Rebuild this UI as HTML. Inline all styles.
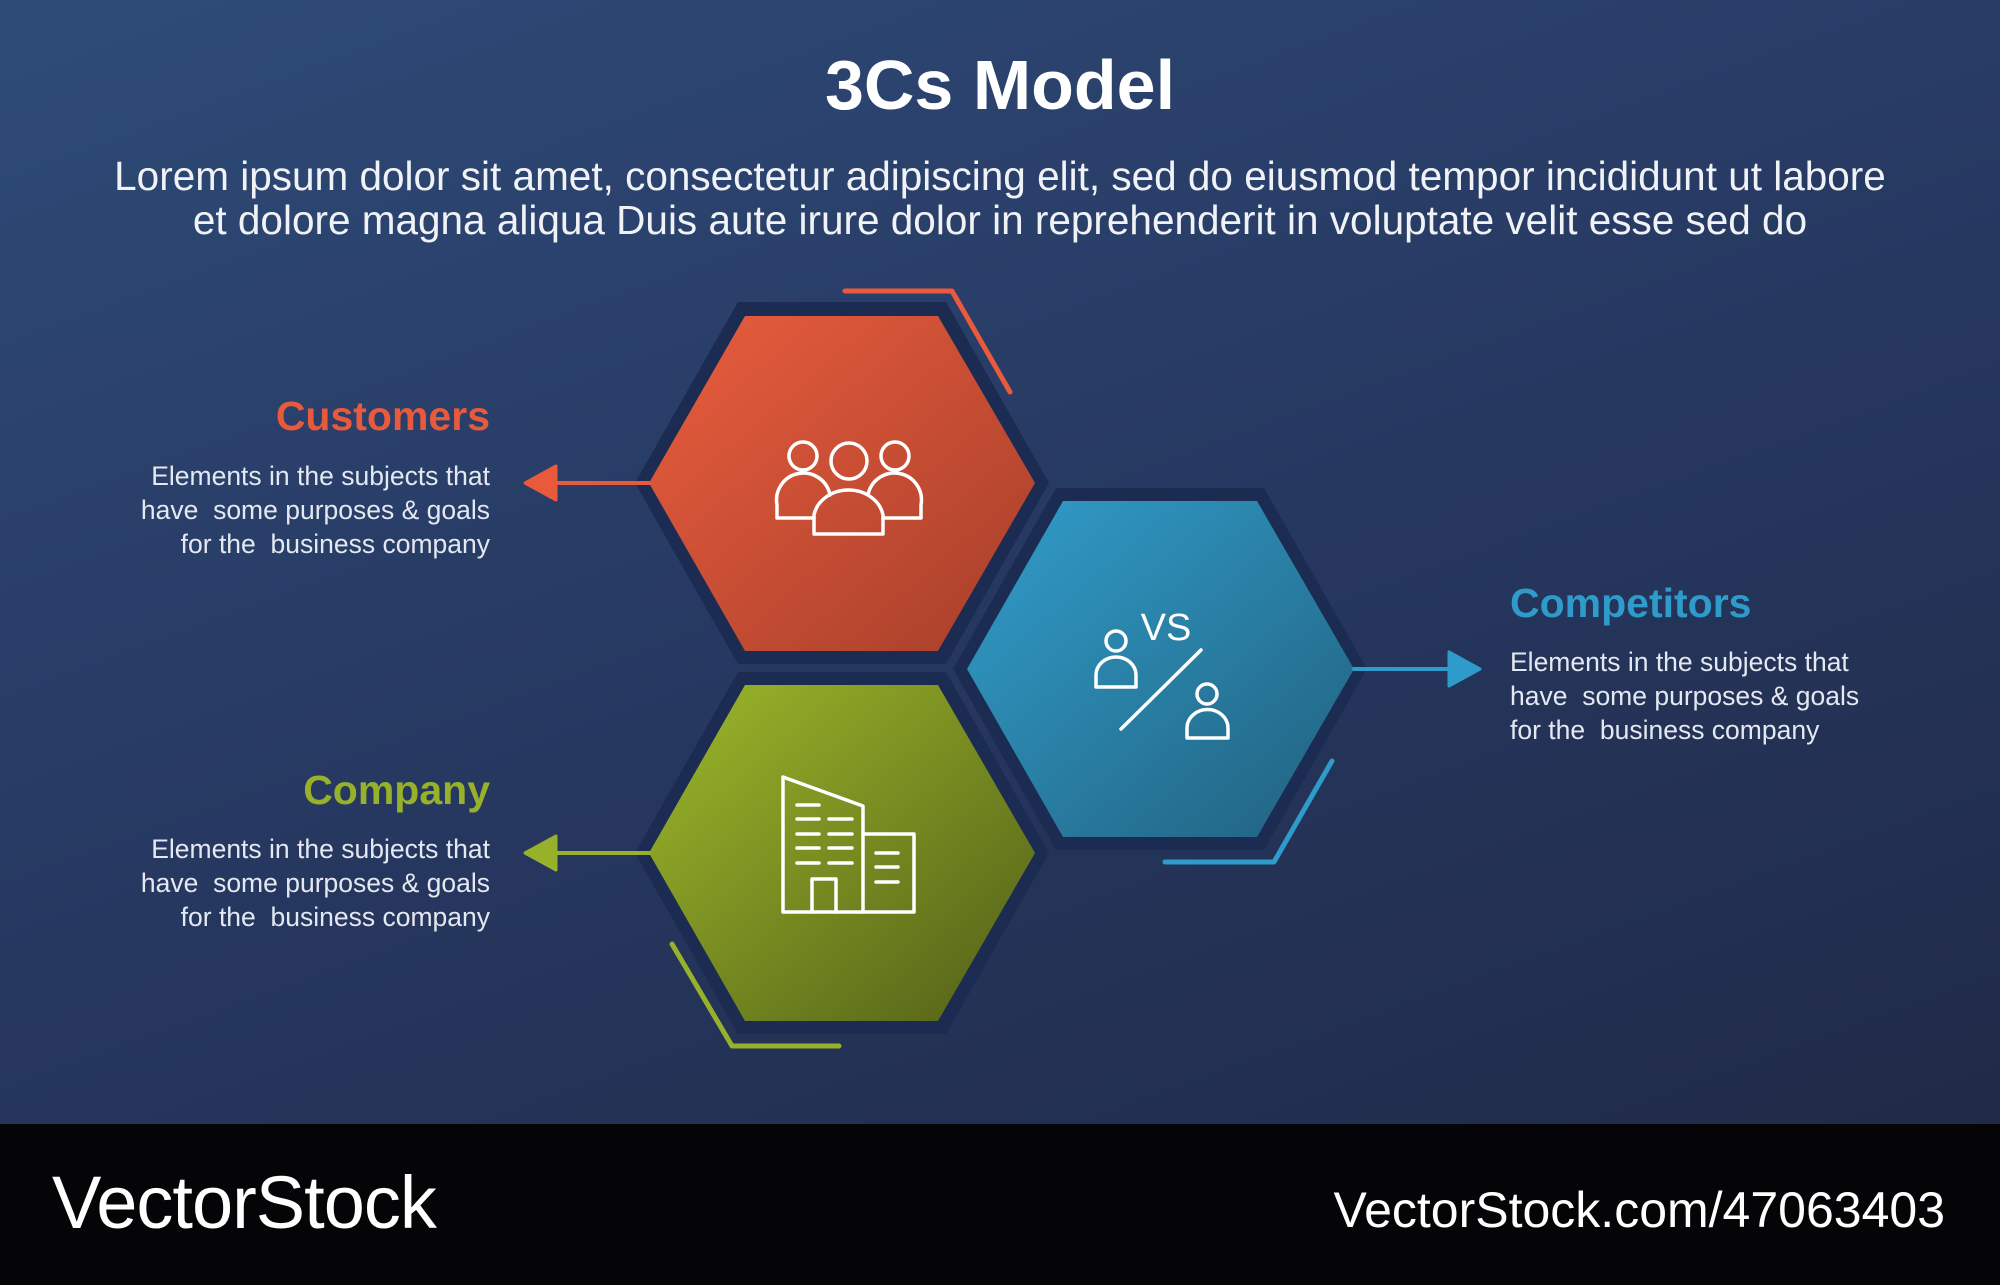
<!DOCTYPE html>
<html><head><meta charset="utf-8"><style>
html,body{margin:0;padding:0}
body{width:2000px;height:1285px;position:relative;overflow:hidden;font-family:"Liberation Sans",sans-serif;
background:linear-gradient(160deg,#2e4b78 0%,#26375f 50%,#1f2844 100%);}
.t{position:absolute;white-space:nowrap}
.h{font-weight:bold;font-size:41px}
.b{font-size:26.5px;color:#e4e8f0;line-height:34px}
.foot{position:absolute;left:0;top:1124px;width:2000px;height:161px;background:#050507}
</style></head><body>
<div class="t" style="left:0;width:2000px;text-align:center;top:45px;font-size:70px;font-weight:bold;color:#fff">3Cs Model</div>
<div class="t" style="left:0;width:2000px;text-align:center;top:154px;font-size:40.5px;line-height:44px;color:#f0f2f6">Lorem ipsum dolor sit amet, consectetur adipiscing elit, sed do eiusmod tempor incididunt ut labore<br>et dolore magna aliqua Duis aute irure dolor in reprehenderit in voluptate velit esse sed do</div>

<div class="t h" style="right:1510px;top:393px;color:#e85a3b">Customers</div>
<div class="t b" style="right:1510px;top:459px;text-align:right">Elements in the subjects that<br>have&nbsp; some purposes &amp; goals<br>for the&nbsp; business company</div>
<div class="t h" style="right:1510px;top:767px;color:#97b12a">Company</div>
<div class="t b" style="right:1510px;top:832px;text-align:right">Elements in the subjects that<br>have&nbsp; some purposes &amp; goals<br>for the&nbsp; business company</div>
<div class="t h" style="left:1510px;top:580px;color:#2e9bca">Competitors</div>
<div class="t b" style="left:1510px;top:645px">Elements in the subjects that<br>have&nbsp; some purposes &amp; goals<br>for the&nbsp; business company</div>

<svg width="2000" height="1285" style="position:absolute;left:0;top:0">
<defs>
<linearGradient id="go" x1="0" y1="0" x2="1" y2="1"><stop offset="0" stop-color="#ea5d3e"/><stop offset="1" stop-color="#a63f2a"/></linearGradient>
<linearGradient id="gb" x1="0" y1="0" x2="1" y2="1"><stop offset="0" stop-color="#319ecb"/><stop offset="1" stop-color="#21607e"/></linearGradient>
<linearGradient id="gg" x1="0" y1="0" x2="1" y2="1"><stop offset="0" stop-color="#9db82a"/><stop offset="1" stop-color="#525f18"/></linearGradient>
</defs>
<g fill="#1b2b52">
<polygon points="635,483 738,302 946,302 1049,483 946,664 738,664"/>
<polygon points="635,853 738,672 946,672 1049,853 946,1034 738,1034"/>
<polygon points="953,669 1056,488 1264,488 1367,669 1264,850 1056,850"/>
</g>
<polygon points="649,483 745,316 938,316 1035,483 938,651 745,651" fill="url(#go)"/>
<polygon points="649,853 745,685 938,685 1035,853 938,1021 745,1021" fill="url(#gg)"/>
<polygon points="967,669 1063,501 1257,501 1354,669 1257,837 1063,837" fill="url(#gb)"/>
<g fill="none" stroke-width="5" stroke-linecap="round" stroke-linejoin="round">
<polyline points="845,291 952,291 1010,392" stroke="#e85a3b"/>
<polyline points="1332,761 1274,862 1165,862" stroke="#2e9bca"/>
<polyline points="672,944 732,1046 839,1046" stroke="#97b12a"/>
<line x1="550" y1="483" x2="649" y2="483" stroke="#e85a3b" stroke-width="4"/>
<line x1="550" y1="853" x2="649" y2="853" stroke="#97b12a" stroke-width="4"/>
<line x1="1354" y1="669" x2="1455" y2="669" stroke="#2e9bca" stroke-width="4"/>
</g>
<polygon points="525,483 556,466 556,500" fill="#e85a3b" stroke="#e85a3b" stroke-width="3" stroke-linejoin="round"/>
<polygon points="525,853 556,836 556,870" fill="#97b12a" stroke="#97b12a" stroke-width="3" stroke-linejoin="round"/>
<polygon points="1480,669 1449,652 1449,686" fill="#2e9bca" stroke="#2e9bca" stroke-width="3" stroke-linejoin="round"/>
<g fill="none" stroke="#fff" stroke-width="3.5" stroke-linejoin="round" stroke-linecap="round">
<circle cx="803" cy="456" r="14"/><circle cx="849" cy="461" r="18"/><circle cx="895" cy="456" r="14"/>
<path d="M814,534 V515 A35,30 0 0 1 883,515 V534 Z"/>
<path d="M814,518 H777 V505 A26,26 0 0 1 830,495"/>
<path d="M883,518 H921 V505 A26,26 0 0 0 868,495"/>
<path d="M783,777 L863,806 V912 H783 Z"/>
<path d="M863,834 H914 V912 H863"/>
<path d="M812,912 V879 H836 V912"/>
<path d="M797,805 H819 M797,819 H819 M829,819 H852 M797,834 H819 M829,834 H852 M797,848 H819 M829,848 H852 M797,863 H819 M829,863 H852"/>
<path d="M876,853 H898 M876,867 H898 M876,882 H898"/>
<circle cx="1116" cy="641" r="10"/>
<path d="M1096,687 V675 A20,18 0 0 1 1136,675 V687 Z"/>
<circle cx="1207" cy="694" r="10"/>
<path d="M1187,738 V728 A20,18 0 0 1 1228,728 V738 Z"/>
<line x1="1201" y1="650" x2="1121" y2="729"/>
</g>
<text x="1166" y="640" fill="#fff" font-family="Liberation Sans" font-size="38" text-anchor="middle">VS</text>
</svg>
<div class="foot"></div>
<div class="t" style="left:52px;top:1160px;font-size:74px;color:#fff;letter-spacing:-1px">VectorStock</div>
<div class="t" style="right:55px;top:1181px;font-size:50px;color:#fff">VectorStock.com/47063403</div>
</body></html>
